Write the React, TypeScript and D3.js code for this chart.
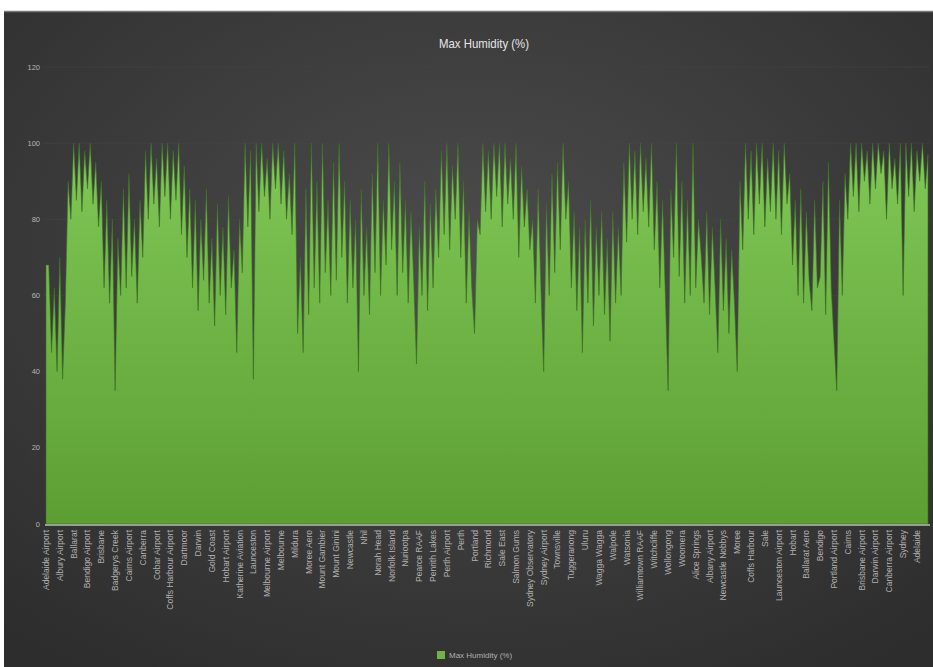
import React from "react";
import * as d3 from "d3";

const title = "Max Humidity (%)";
const seriesName = "Max Humidity (%)";

const maxHumidity: number[] = [
  68, 68, 45, 62, 40, 70, 38, 58, 90,
  80, 100, 85, 100, 82, 98, 88, 100, 84, 95,
  78, 90, 62, 85, 58, 80, 35, 75, 60,
  88, 62, 92, 65, 80, 58, 85, 70,
  98, 80, 100, 84, 96, 78, 100, 86, 100, 80, 98, 85, 100, 76, 94, 70, 88,
  62, 85, 56, 80, 64, 88, 58, 75, 52, 84, 60, 78, 55, 86, 62, 72, 45, 80,
  66, 100, 78, 98, 38, 100, 82, 100, 86, 96, 80, 100, 88, 100, 84, 98, 80, 92, 76, 100, 50, 70,
  45, 88, 55, 100, 62, 90, 58, 100, 66, 85, 60, 95,
  64, 100, 70, 90, 58, 85, 62, 80, 40, 88, 60, 78, 55, 92, 66, 100, 60, 85,
  68, 100, 72, 90, 60, 95, 66, 85, 58, 82, 64, 42, 78, 60, 90, 56, 84, 62,
  88, 70, 98, 76, 100, 72, 94, 80, 100, 70, 90, 58, 82, 62, 50, 80,
  76, 100, 82, 98, 80, 100, 86, 100, 78, 100, 84, 96, 80, 100, 70, 94, 78, 88, 72,
  80, 58, 88, 62, 40, 84, 60, 92, 66, 95, 72, 100, 80, 90,
  62, 82, 56, 78, 45, 80, 58, 85, 52, 78, 60, 82, 55, 75, 48, 82, 58, 78, 60,
  95, 74, 100, 80, 98, 76, 100, 82, 96, 78, 100, 72, 90, 62,
  85, 60, 35, 88, 70, 100, 65, 90, 58, 85, 60, 100, 62, 80,
  70, 58, 82, 55, 78, 62, 45, 80, 56, 75, 50, 72, 58, 40,
  90, 72, 100, 80, 98, 76, 100, 84, 100, 78, 96, 82, 100, 80, 98, 76, 100, 84, 92,
  68, 85, 60, 88, 58, 82, 64, 56, 85, 62,
  65, 90, 55, 95, 62, 48, 35, 85, 60, 92, 80, 100,
  86, 100, 82, 100, 90, 98, 84, 100, 88, 100, 92, 98, 80, 100, 88, 96, 84, 100, 60, 100, 86, 100, 82, 98, 90, 100, 88, 97,
];

const categoryLabels: string[] = [
  "Adelaide Airport", "Albury Airport", "Ballarat", "Bendigo Airport", "Brisbane", "Badgerys Creek",
  "Cairns Airport", "Canberra", "Cobar Airport", "Coffs Harbour Airport", "Dartmoor", "Darwin",
  "Gold Coast", "Hobart Airport", "Katherine Aviation", "Launceston", "Melbourne Airport", "Melbourne",
  "Mildura", "Moree Aero", "Mount Gambier", "Mount Ginini", "Newcastle", "Nhil",
  "Norah Head", "Norfolk Island", "Nuriootpa", "Pearce RAAF", "Penrith Lakes", "Perth Airport",
  "Perth", "Portland", "Richmond", "Sale East", "Salmon Gums", "Sydney Observatory",
  "Sydney Airport", "Townsville", "Tuggeranong", "Uluru", "Wagga Wagga", "Walpole",
  "Watsonia", "Williamtown RAAF", "Witchcliffe", "Wollongong", "Woomera", "Alice Springs",
  "Albany Airport", "Newcastle Nobbys", "Moree", "Coffs Harbour", "Sale", "Launceston Airport",
  "Hobart", "Ballarat Aero", "Bendigo", "Portland Airport", "Cairns", "Brisbane Airport",
  "Darwin Airport", "Canberra Airport", "Sydney", "Adelaide",
];

const yTicks: number[] = [0, 20, 40, 60, 80, 100, 120];

const W = 933;
const H = 667;
const LABEL_EVERY = 5;

export default function App() {
  const n = maxHumidity.length;
  const x = d3.scaleLinear().domain([0, n - 1]).range([46, 928]);
  const y = d3.scaleLinear().domain([0, 120]).range([524, 67]);

  const area = d3
    .area<number>()
    .x((_, i) => x(i))
    .y0(y(0))
    .y1((d) => y(d))
    .curve(d3.curveLinear);

  const fontFamily = "'Liberation Sans', 'DejaVu Sans', sans-serif";

  return (
    <svg
      width={W}
      height={H}
      style={{ position: "absolute", left: 0, top: 0, background: "#ffffff" }}
    >
      <defs>
        <radialGradient id="bg" cx="50%" cy="38%" r="75%">
          <stop offset="0%" stopColor="#4c4c4c" />
          <stop offset="100%" stopColor="#2d2d2d" />
        </radialGradient>
        <linearGradient id="fill" x1="0" y1="0" x2="0" y2="1">
          <stop offset="0%" stopColor="#80c857" />
          <stop offset="100%" stopColor="#5d9e33" />
        </linearGradient>
      </defs>
      <rect x={4} y={11} width={W - 4} height={H - 11} fill="url(#bg)" />
      <line x1={4} x2={W} y1={11.5} y2={11.5} stroke="#7a7a7a" strokeWidth={1.5} />

      <text
        x={484}
        y={48}
        textAnchor="middle"
        fill="#e6e6e6"
        fontSize={13}
        fontFamily={fontFamily}
        textLength={90}
        lengthAdjust="spacingAndGlyphs"
      >
        {title}
      </text>

      {yTicks.map((t) => (
        <g key={t}>
          {t > 0 && (
            <line x1={44} x2={930} y1={y(t)} y2={y(t)} stroke="#454545" strokeWidth={0.6} />
          )}
          <text
            x={40}
            y={y(t)}
            dy="0.35em"
            textAnchor="end"
            fill="#b5b5b5"
            fontSize={7.5}
            fontFamily={fontFamily}
          >
            {t}
          </text>
        </g>
      ))}

      <path
        d={area(maxHumidity) || ""}
        fill="url(#fill)"
        stroke="#3a7020"
        strokeWidth={0.8}
        strokeOpacity={0.75}
        strokeLinejoin="miter"
      />

      <line x1={45} x2={930} y1={y(0) + 1} y2={y(0) + 1} stroke="#bdbdbd" strokeWidth={1.5} />

      {categoryLabels.map((lab, j) => {
        const idx = j * LABEL_EVERY;
        if (idx >= n) return null;
        const cx = x(idx);
        return (
          <text
            key={j}
            transform={`translate(${cx},${530}) rotate(-90)`}
            textAnchor="end"
            dy="0.35em"
            fill="#b0b0b0"
            fontSize={8.5}
            fontFamily={fontFamily}
          >
            {lab}
          </text>
        );
      })}

      <g transform="translate(437,651)">
        <rect x={0} y={0} width={8} height={8} fill="#6fb546" />
        <text x={12} y={4} dy="0.35em" fill="#b0b0b0" fontSize={8} fontFamily={fontFamily}>
          {seriesName}
        </text>
      </g>
    </svg>
  );
}
